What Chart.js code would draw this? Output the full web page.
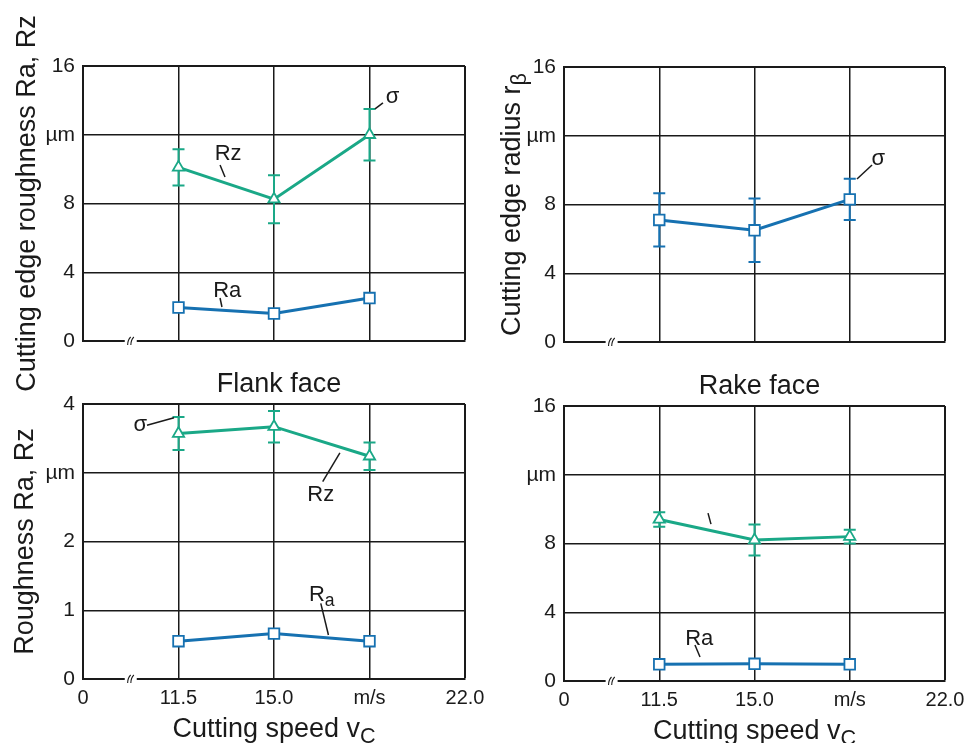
<!DOCTYPE html>
<html>
<head>
<meta charset="utf-8">
<script src="https://cdn.jsdelivr.net/npm/chart.js@4.4.0/dist/chart.umd.min.js"></script>
<style>
  html, body { margin: 0; padding: 0; background: #fff; }
  #wrap { position: relative; width: 979px; height: 743px; }
  #wrap canvas { position: absolute; left: 0; top: 0; }
</style>
</head>
<body>
<div id="wrap">
  <canvas id="edge" width="979" height="743"></canvas>
  <canvas id="radius" width="979" height="743"></canvas>
  <canvas id="flank" width="979" height="743"></canvas>
  <canvas id="rake" width="979" height="743"></canvas>
</div>
<script>
// x axis is broken: 0, then equal steps 11.5 / 15.0 / 18.5 (m/s) / 22.0
const xTickLabels = ['0', '11.5', '15.0', 'm/s', '22.0'];
const speedIdx = [1, 2, 3];

const yTicks16 = [0, 4, 8, 12, 16];
const yLabels16 = ['0', '4', '8', 'µm', '16'];
const yTicks4 = [0, 1, 2, 3, 4];
const yLabels4 = ['0', '1', '2', 'µm', '4'];

// cutting edge roughness
const edgeRz = [10.1, 8.25, 12.0];
const edgeRzErr = [1.05, 1.4, 1.5];
const edgeRa = [1.95, 1.6, 2.5];
// cutting edge radius r_beta
const edgeRadius = [7.1, 6.5, 8.3];
const edgeRadiusErr = [1.55, 1.85, 1.2];
// flank face
const flankRz = [3.57, 3.67, 3.24];
const flankRzErr = [0.24, 0.23, 0.2];
const flankRa = [0.55, 0.66, 0.55];
// rake face
const rakeRz = [9.4, 8.2, 8.4];
const rakeRzErr = [0.42, 0.9, 0.4];
const rakeRa = [0.97, 1.0, 0.97];

const FONT = '"Liberation Sans", Arial, sans-serif';
const INK = '#1a1a1a';
const GREEN = '#1aa887';
const BLUE = '#1671b1';

function pts(vals) {
  return speedIdx.map((x, i) => ({ x: x, y: vals[i] }));
}

function rzSet(vals, errs) {
  return {
    label: 'Rz', data: pts(vals), errors: errs,
    borderColor: GREEN, borderWidth: 3, pointStyle: 'triangle', pointRadius: 6.5,
    pointBackgroundColor: '#fff', pointBorderColor: GREEN, pointBorderWidth: 1.8
  };
}
function raSet(vals, errs, color) {
  return {
    label: 'Ra', data: pts(vals), errors: errs,
    borderColor: color || BLUE, borderWidth: 3, pointStyle: 'rect', pointRadius: 7.5,
    pointBackgroundColor: '#fff', pointBorderColor: color || BLUE, pointBorderWidth: 1.8
  };
}

function drawRich(ctx, segs, x, y, size, rotate, align) {
  ctx.save();
  ctx.translate(x, y);
  if (rotate) ctx.rotate(-Math.PI / 2);
  let w = 0;
  segs.forEach(s => {
    ctx.font = (s.sub ? size * 0.8 : size) + 'px ' + FONT;
    s.w = ctx.measureText(s.t).width;
    w += s.w;
  });
  let cx = align === 'center' ? -w / 2 : 0;
  ctx.fillStyle = INK;
  ctx.textBaseline = 'alphabetic';
  ctx.textAlign = 'left';
  segs.forEach(s => {
    ctx.font = (s.sub ? size * 0.8 : size) + 'px ' + FONT;
    ctx.fillText(s.t, cx, s.sub ? size * 0.21 : 0);
    cx += s.w;
  });
  ctx.restore();
}

const errorBars = {
  id: 'errorBars',
  beforeDatasetsDraw(chart) {
    const ctx = chart.ctx, xs = chart.scales.x, ys = chart.scales.y;
    chart.data.datasets.forEach(ds => {
      if (!ds.errors) return;
      ctx.save();
      ctx.strokeStyle = ds.borderColor;
      ctx.lineWidth = 2;
      ds.data.forEach((p, i) => {
        const e = ds.errors[i];
        if (!e) return;
        const px = xs.getPixelForValue(p.x);
        const y1 = ys.getPixelForValue(p.y + e), y2 = ys.getPixelForValue(p.y - e);
        ctx.beginPath();
        ctx.moveTo(px, y1); ctx.lineTo(px, y2);
        ctx.moveTo(px - 6, y1); ctx.lineTo(px + 6, y1);
        ctx.moveTo(px - 6, y2); ctx.lineTo(px + 6, y2);
        ctx.stroke();
      });
      ctx.restore();
    });
  }
};

const decor = {
  id: 'decor',
  afterDraw(chart, args, opts) {
    const ctx = chart.ctx, xs = chart.scales.x, ys = chart.scales.y, a = chart.chartArea;
    // axis break mark
    const bx = xs.getPixelForValue(0.5), by = a.bottom;
    ctx.save();
    ctx.fillStyle = '#fff';
    ctx.fillRect(bx - 6, by - 3, 12, 6);
    ctx.strokeStyle = INK; ctx.lineWidth = 1.1;
    [-1.6, 1.6].forEach(d => {
      ctx.beginPath();
      ctx.moveTo(bx + d - 1.5, by + 4);
      ctx.quadraticCurveTo(bx + d - 1.5, by - 1, bx + d + 1.5, by - 4);
      ctx.stroke();
    });
    // leader notes
    ctx.lineWidth = 1.5;
    (opts.notes || []).forEach(n => {
      if (n.line) {
        ctx.beginPath();
        ctx.moveTo(xs.getPixelForValue(n.line[0]), ys.getPixelForValue(n.line[1]));
        ctx.lineTo(xs.getPixelForValue(n.line[2]), ys.getPixelForValue(n.line[3]));
        ctx.stroke();
      }
      if (n.segs) {
        drawRich(ctx, n.segs, xs.getPixelForValue(n.x), ys.getPixelForValue(n.y) + 8, 22, false, 'center');
      }
    });
    ctx.restore();
    // titles
    const midX = (a.left + a.right) / 2, midY = (a.top + a.bottom) / 2;
    if (opts.yTitle) drawRich(ctx, opts.yTitle, a.left - opts.yTitleOff, midY, 27, true, 'center');
    if (opts.xTitle) drawRich(ctx, opts.xTitle, midX, a.bottom + 58, 27, false, 'center');
    if (opts.top) drawRich(ctx, [{ t: opts.top }], midX + 5, a.top - 12, 27, false, 'center');
  }
};

function panel(id, area, datasets, yMax, yVals, yLabels, showX, decorOpts) {
  new Chart(document.getElementById(id), {
    type: 'line',
    data: { datasets: datasets },
    options: {
      responsive: false,
      animation: false,
      layout: {
        padding: { left: area[0] - 60, top: area[1], right: 979 - area[2], bottom: 743 - area[3] - 40 }
      },
      plugins: {
        legend: { display: false },
        tooltip: { enabled: false },
        decor: decorOpts
      },
      scales: {
        x: {
          type: 'linear', min: 0, max: 4,
          afterBuildTicks: s => { s.ticks = xTickLabels.map((_, i) => ({ value: i })); },
          ticks: {
            display: showX, autoSkip: false, maxRotation: 0, padding: 7,
            callback: (v, i) => xTickLabels[i],
            font: { family: FONT, size: 20 }, color: INK
          },
          grid: { color: INK, lineWidth: ctx => (ctx.tick && ctx.tick.value === 4) ? 2 : 1.5, drawTicks: false },
          border: { color: INK, width: 2 },
          afterFit: s => { s.height = 40; s.paddingLeft = 0; s.paddingRight = 0; }
        },
        y: {
          type: 'linear', min: 0, max: yMax,
          afterBuildTicks: s => { s.ticks = yVals.map(v => ({ value: v })); },
          ticks: {
            padding: 8,
            callback: (v, i) => yLabels[i],
            font: { family: FONT, size: 21 }, color: INK
          },
          grid: { color: INK, lineWidth: ctx => (ctx.tick && ctx.tick.value === yMax) ? 2 : 1.5, drawTicks: false },
          border: { color: INK, width: 2 },
          afterFit: s => { s.width = 60; s.paddingTop = 0; s.paddingBottom = 0; }
        }
      }
    },
    plugins: [errorBars, decor]
  });
}

panel('edge', [83, 66, 465, 341], [rzSet(edgeRz, edgeRzErr), raSet(edgeRa)], 16, yTicks16, yLabels16, false, {
  yTitle: [{ t: 'Cutting edge roughness Ra, Rz' }], yTitleOff: 48,
  notes: [
    { segs: [{ t: 'Rz' }], x: 1.52, y: 11.0, line: [1.435, 10.24, 1.487, 9.54] },
    { segs: [{ t: 'Ra' }], x: 1.51, y: 3.02, line: [1.435, 2.5, 1.455, 1.98] },
    { segs: [{ t: 'σ' }], x: 3.24, y: 14.31, line: [3.141, 13.85, 3.058, 13.5] }
  ]
});

panel('radius', [564, 67, 945, 342], [raSet(edgeRadius, edgeRadiusErr)], 16, yTicks16, yLabels16, false, {
  yTitle: [{ t: 'Cutting edge radius r' }, { t: 'β', sub: true }], yTitleOff: 44,
  notes: [
    { segs: [{ t: 'σ' }], x: 3.3, y: 10.76, line: [3.234, 10.3, 3.076, 9.48] }
  ]
});

panel('flank', [83, 404, 465, 679], [rzSet(flankRz, flankRzErr), raSet(flankRa)], 4, yTicks4, yLabels4, true, {
  yTitle: [{ t: 'Roughness Ra, Rz' }], yTitleOff: 50,
  xTitle: [{ t: 'Cutting speed v' }, { t: 'C', sub: true }],
  top: 'Flank face',
  notes: [
    { segs: [{ t: 'σ' }], x: 0.6, y: 3.72, line: [0.67, 3.69, 0.953, 3.8] },
    { segs: [{ t: 'Rz' }], x: 2.49, y: 2.71, line: [2.51, 2.87, 2.69, 3.29] },
    { segs: [{ t: 'R' }, { t: 'a', sub: true }], x: 2.5, y: 1.25, line: [2.49, 1.1, 2.57, 0.64] }
  ]
});

panel('rake', [564, 406, 945, 681], [rzSet(rakeRz, rakeRzErr), raSet(rakeRa)], 16, yTicks16, yLabels16, true, {
  xTitle: [{ t: 'Cutting speed v' }, { t: 'C', sub: true }],
  top: 'Rake face',
  notes: [
    { x: 1.512, y: 9.77, line: [1.512, 9.77, 1.543, 9.13] },
    { segs: [{ t: 'Ra' }], x: 1.42, y: 2.56, line: [1.375, 2.09, 1.428, 1.4] }
  ]
});
</script>
</body>
</html>
